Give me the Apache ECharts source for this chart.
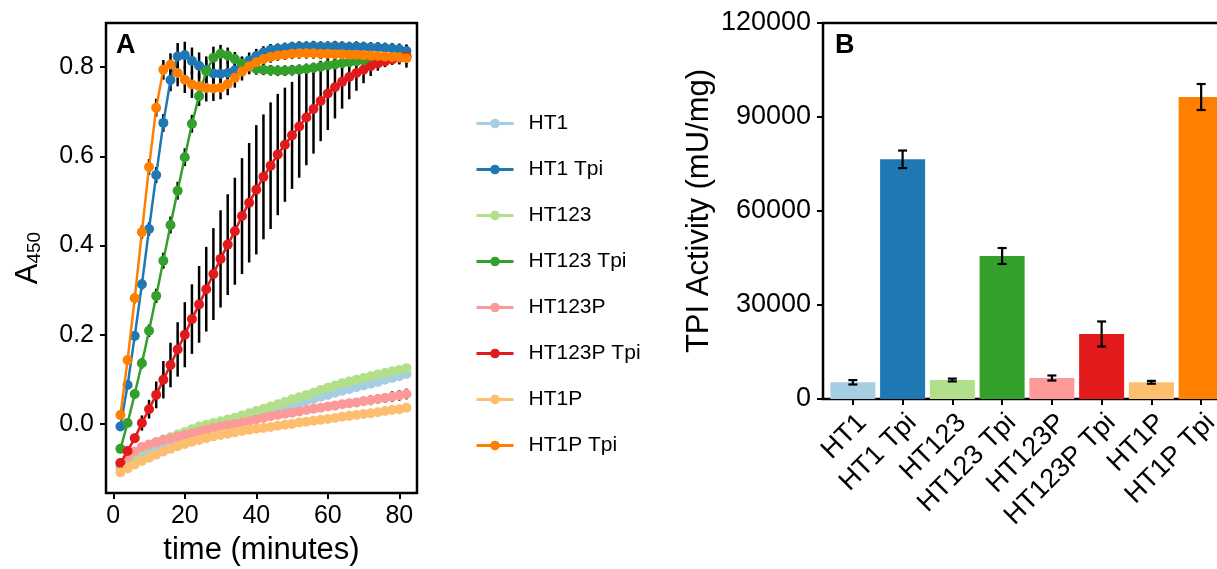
<!DOCTYPE html>
<html>
<head>
<meta charset="utf-8">
<script src="https://cdn.jsdelivr.net/npm/echarts@6/dist/echarts.min.js"></script>
<style>
  html, body { margin: 0; padding: 0; background: #fff; }
  #chart { width: 1217px; height: 569px; }
</style>
</head>
<body>
<div id="chart"></div>
<script>
// --- data: panel A (A450 over time) ---
const times = [2,4,6,8,10,12,14,16,18,20,22,24,26,28,30,32,34,36,38,40,42,44,46,48,50,52,54,56,58,60,62,64,66,68,70,72,74,76,78,80,82];
const seriesNames = ['HT1', 'HT1 Tpi', 'HT123', 'HT123 Tpi', 'HT123P', 'HT123P Tpi', 'HT1P', 'HT1P Tpi'];
const seriesColors = ['#a6cee3', '#1f78b4', '#b2df8a', '#33a02c', '#fb9a99', '#e31a1c', '#fdbf6f', '#ff7f00'];

const ht1 = [-0.099,-0.089,-0.078,-0.068,-0.060,-0.053,-0.047,-0.041,-0.035,-0.029,-0.024,-0.018,-0.013,-0.008,-0.004,0.000,0.004,0.009,0.013,0.018,0.022,0.027,0.032,0.037,0.042,0.047,0.052,0.056,0.061,0.065,0.070,0.074,0.078,0.082,0.086,0.090,0.094,0.099,0.103,0.107,0.112];
const ht1Tpi = [-0.006,0.087,0.197,0.313,0.437,0.558,0.675,0.771,0.824,0.827,0.814,0.803,0.794,0.786,0.785,0.787,0.793,0.804,0.815,0.825,0.833,0.839,0.841,0.843,0.845,0.846,0.846,0.847,0.846,0.846,0.847,0.846,0.845,0.846,0.845,0.844,0.844,0.843,0.842,0.840,0.836];
const ht123 = [-0.092,-0.080,-0.067,-0.056,-0.048,-0.041,-0.035,-0.030,-0.024,-0.018,-0.012,-0.006,-0.002,0.002,0.006,0.010,0.014,0.019,0.024,0.029,0.034,0.039,0.044,0.049,0.055,0.060,0.065,0.070,0.076,0.081,0.086,0.091,0.095,0.099,0.103,0.107,0.111,0.114,0.118,0.121,0.125];
const ht123Tpi = [-0.056,0.002,0.067,0.136,0.209,0.287,0.366,0.446,0.523,0.598,0.673,0.735,0.791,0.821,0.830,0.826,0.818,0.808,0.801,0.796,0.794,0.793,0.792,0.792,0.793,0.794,0.796,0.798,0.801,0.804,0.806,0.809,0.811,0.813,0.815,0.817,0.819,0.820,0.821,0.823,0.824];
const ht123P = [-0.088,-0.075,-0.062,-0.052,-0.046,-0.041,-0.036,-0.033,-0.029,-0.025,-0.021,-0.017,-0.013,-0.009,-0.006,-0.003,0.000,0.003,0.006,0.010,0.013,0.017,0.020,0.023,0.025,0.028,0.031,0.034,0.036,0.039,0.041,0.044,0.046,0.048,0.051,0.053,0.056,0.058,0.061,0.064,0.067];
const ht123PTpi = [-0.088,-0.061,-0.032,0.002,0.033,0.065,0.099,0.132,0.167,0.200,0.235,0.268,0.302,0.336,0.370,0.402,0.432,0.466,0.496,0.525,0.554,0.579,0.604,0.626,0.647,0.667,0.687,0.706,0.724,0.741,0.755,0.767,0.778,0.787,0.794,0.802,0.808,0.813,0.817,0.821,0.824];
const ht1P = [-0.109,-0.100,-0.091,-0.083,-0.076,-0.069,-0.062,-0.056,-0.050,-0.045,-0.040,-0.036,-0.032,-0.028,-0.025,-0.022,-0.019,-0.016,-0.013,-0.011,-0.009,-0.007,-0.004,-0.002,0.000,0.003,0.005,0.007,0.009,0.011,0.013,0.016,0.018,0.020,0.022,0.024,0.026,0.029,0.031,0.033,0.036];
const ht1PTpi = [0.020,0.143,0.282,0.430,0.576,0.709,0.794,0.806,0.787,0.772,0.761,0.757,0.753,0.752,0.754,0.762,0.776,0.790,0.802,0.811,0.818,0.823,0.826,0.828,0.830,0.831,0.831,0.831,0.830,0.830,0.829,0.829,0.828,0.828,0.827,0.826,0.825,0.824,0.823,0.822,0.820];

// standard deviations (only the ones that show)
const ht1TpiErr = [0.005,0.008,0.010,0.012,0.015,0.018,0.020,0.025,0.030,0.030,0.030,0.030,0.030,0.028,0.026,0.025,0.022,0.020,0.018,0.016,0.014,0.013,0.012,0.012,0.012,0.012,0.012,0.012,0.012,0.012,0.012,0.012,0.012,0.012,0.012,0.012,0.012,0.012,0.012,0.013,0.015];
const ht123TpiErr = [0.005,0.008,0.010,0.012,0.014,0.016,0.018,0.019,0.020,0.020,0.020,0.022,0.025,0.025,0.020,0.018,0.016,0.015,0.014,0.013,0.012,0.012,0.012,0.012,0.012,0.012,0.012,0.012,0.012,0.012,0.012,0.012,0.012,0.012,0.012,0.012,0.012,0.012,0.012,0.012,0.012];
const ht123PErr = [0.003,0.003,0.003,0.003,0.003,0.003,0.003,0.003,0.004,0.004,0.004,0.004,0.004,0.004,0.005,0.005,0.005,0.005,0.005,0.006,0.006,0.006,0.006,0.007,0.007,0.007,0.008,0.008,0.008,0.009,0.009,0.009,0.010,0.010,0.010,0.011,0.011,0.011,0.012,0.012,0.012];
const ht123PTpiErr = [0.005,0.008,0.010,0.017,0.021,0.030,0.042,0.050,0.061,0.073,0.078,0.086,0.095,0.103,0.109,0.113,0.120,0.130,0.134,0.145,0.140,0.142,0.136,0.128,0.120,0.115,0.107,0.100,0.090,0.082,0.070,0.060,0.050,0.040,0.030,0.022,0.016,0.013,0.012,0.015,0.025];
const ht1PTpiErr = [0.005,0.008,0.012,0.015,0.018,0.020,0.022,0.025,0.030,0.030,0.030,0.030,0.030,0.028,0.026,0.025,0.022,0.020,0.018,0.016,0.014,0.013,0.012,0.012,0.012,0.012,0.012,0.012,0.012,0.012,0.012,0.012,0.012,0.012,0.012,0.012,0.012,0.012,0.012,0.012,0.013];

const seriesValues = [ht1, ht1Tpi, ht123, ht123Tpi, ht123P, ht123PTpi, ht1P, ht1PTpi];
const seriesErrors = [null, ht1TpiErr, null, ht123TpiErr, ht123PErr, ht123PTpiErr, null, ht1PTpiErr];

const xTicksA = [0, 20, 40, 60, 80];
const yTicksA = [0, 0.2, 0.4, 0.6, 0.8];

// --- data: panel B (TPI activity) ---
const barNames = ['HT1', 'HT1 Tpi', 'HT123', 'HT123 Tpi', 'HT123P', 'HT123P Tpi', 'HT1P', 'HT1P Tpi'];
const barValues = [5330, 76500, 6060, 45640, 6700, 20750, 5330, 96380];
const barErrors = [700, 2800, 450, 2550, 800, 3990, 450, 4150];
const barPositions = [1, 2, 3, 4, 5, 6, 7, 8];

const FONT = "'Liberation Sans', Arial, Helvetica, sans-serif";
const tickStyle = { show: true, length: 6, lineStyle: { color: '#000', width: 2 } };

const chart = echarts.init(document.getElementById('chart'), null, { renderer: 'canvas' });

function lineErrorSeries(i) {
  const ys = seriesValues[i], errs = seriesErrors[i];
  return {
    type: 'custom',
    name: seriesNames[i] + ' sd',
    xAxisIndex: 0, yAxisIndex: 0,
    z: 1, silent: true,
    encode: { x: 0, y: [1, 2] },
    data: times.map((t, k) => [t, ys[k] - errs[k], ys[k] + errs[k]]),
    renderItem: (params, api) => {
      const lo = api.coord([api.value(0), api.value(1)]);
      const hi = api.coord([api.value(0), api.value(2)]);
      return {
        type: 'line',
        shape: { x1: lo[0], y1: lo[1], x2: hi[0], y2: hi[1] },
        style: { stroke: '#000', lineWidth: 2.5 },
      };
    },
  };
}

const lineSeries = seriesNames.map((name, i) => ({
  name,
  type: 'line',
  xAxisIndex: 0, yAxisIndex: 0,
  data: times.map((t, k) => [t, seriesValues[i][k]]),
  symbol: 'circle',
  symbolSize: 10,
  z: 2 + i,
  lineStyle: { color: seriesColors[i], width: 2.5 },
  itemStyle: { color: seriesColors[i] },
}));

const errSeries = seriesErrors.map((e, i) => e ? lineErrorSeries(i) : null).filter(Boolean);

const barSeries = {
  name: 'TPI Activity',
  type: 'bar',
  xAxisIndex: 1, yAxisIndex: 1,
  barWidth: 45,
  data: barPositions.map((p, i) => ({ value: [p, barValues[i]], itemStyle: { color: seriesColors[i] } })),
};

const barErrSeries = {
  name: 'TPI sd',
  type: 'custom',
  xAxisIndex: 1, yAxisIndex: 1,
  z: 5, silent: true,
  encode: { x: 0, y: [1, 2] },
  data: barPositions.map((p, i) => [p, barValues[i] - barErrors[i], barValues[i] + barErrors[i]]),
  renderItem: (params, api) => {
    const lo = api.coord([api.value(0), api.value(1)]);
    const hi = api.coord([api.value(0), api.value(2)]);
    const cap = 4.5;
    const st = { stroke: '#000', lineWidth: 2.2 };
    return {
      type: 'group',
      children: [
        { type: 'line', shape: { x1: lo[0], y1: lo[1], x2: hi[0], y2: hi[1] }, style: st },
        { type: 'line', shape: { x1: lo[0] - cap, y1: lo[1], x2: lo[0] + cap, y2: lo[1] }, style: st },
        { type: 'line', shape: { x1: hi[0] - cap, y1: hi[1], x2: hi[0] + cap, y2: hi[1] }, style: st },
      ],
    };
  },
};

chart.setOption({
  animation: false,
  textStyle: { fontFamily: FONT },
  grid: [
    { left: 106, top: 23, width: 311, height: 470, show: true, borderColor: '#000', borderWidth: 2.5, backgroundColor: 'transparent', outerBoundsMode: 'none' },
    // panel B runs past the right edge of the picture
    { left: 823, width: 408, top: 23, height: 376, show: true, borderColor: '#000', borderWidth: 2.5, backgroundColor: 'transparent', outerBoundsMode: 'none' },
  ],
  legend: {
    data: seriesNames,
    orient: 'vertical',
    left: 470, top: 108,
    itemWidth: 37, itemHeight: 12, itemGap: 25,
    lineStyle: { width: 3 },
    textStyle: { fontSize: 21, color: '#000', fontFamily: FONT, padding: [0, 0, 0, 10] },
  },
  xAxis: [
    {
      gridIndex: 0, type: 'value', min: -2.04, max: 84.95,
      name: 'time (minutes)', nameLocation: 'middle', nameGap: 42,
      nameTextStyle: { fontSize: 31, color: '#000', fontFamily: FONT },
      axisLine: { show: false, onZero: false },
      axisTick: { ...tickStyle, customValues: xTicksA },
      axisLabel: { customValues: xTicksA, fontSize: 25, color: '#000', margin: 11 },
      splitLine: { show: false },
    },
    {
      gridIndex: 1, type: 'value', min: 0.4, max: 8.6,
      axisLine: { show: false, onZero: false },
      axisTick: { ...tickStyle, customValues: barPositions },
      axisLabel: {
        customValues: barPositions, fontSize: 27, color: '#000', rotate: 45, margin: 10,
        align: 'right', verticalAlign: 'top',
        formatter: v => barNames[Math.round(v) - 1],
      },
      splitLine: { show: false },
    },
  ],
  yAxis: [
    {
      gridIndex: 0, type: 'value', min: -0.155, max: 0.899,
      name: '{a|A}{b|450}', nameLocation: 'middle', nameGap: 62,
      nameTextStyle: {
        rich: {
          a: { fontSize: 31, color: '#000', fontFamily: FONT, verticalAlign: 'bottom' },
          b: { fontSize: 19, color: '#000', fontFamily: FONT, verticalAlign: 'bottom' },
        },
      },
      axisLine: { show: false, onZero: false },
      axisTick: { ...tickStyle, customValues: yTicksA },
      axisLabel: { customValues: yTicksA, fontSize: 25, color: '#000', margin: 12, formatter: v => v.toFixed(1) },
      splitLine: { show: false },
    },
    {
      gridIndex: 1, type: 'value', min: 0, max: 120000, interval: 30000,
      name: 'TPI Activity (mU/mg)', nameLocation: 'middle', nameGap: 108,
      nameTextStyle: { fontSize: 31, color: '#000', fontFamily: FONT },
      axisLine: { show: false, onZero: false },
      axisTick: tickStyle,
      axisLabel: { fontSize: 27, color: '#000', margin: 12, formatter: v => String(v) },
      splitLine: { show: false },
    },
  ],
  graphic: [
    { type: 'text', left: 116, top: 32, style: { text: 'A', fontSize: 27, fontWeight: 'bold', fill: '#000', fontFamily: FONT } },
    { type: 'text', left: 835, top: 32, style: { text: 'B', fontSize: 27, fontWeight: 'bold', fill: '#000', fontFamily: FONT } },
  ],
  series: [...errSeries, ...lineSeries, barSeries, barErrSeries],
});
</script>
</body>
</html>
